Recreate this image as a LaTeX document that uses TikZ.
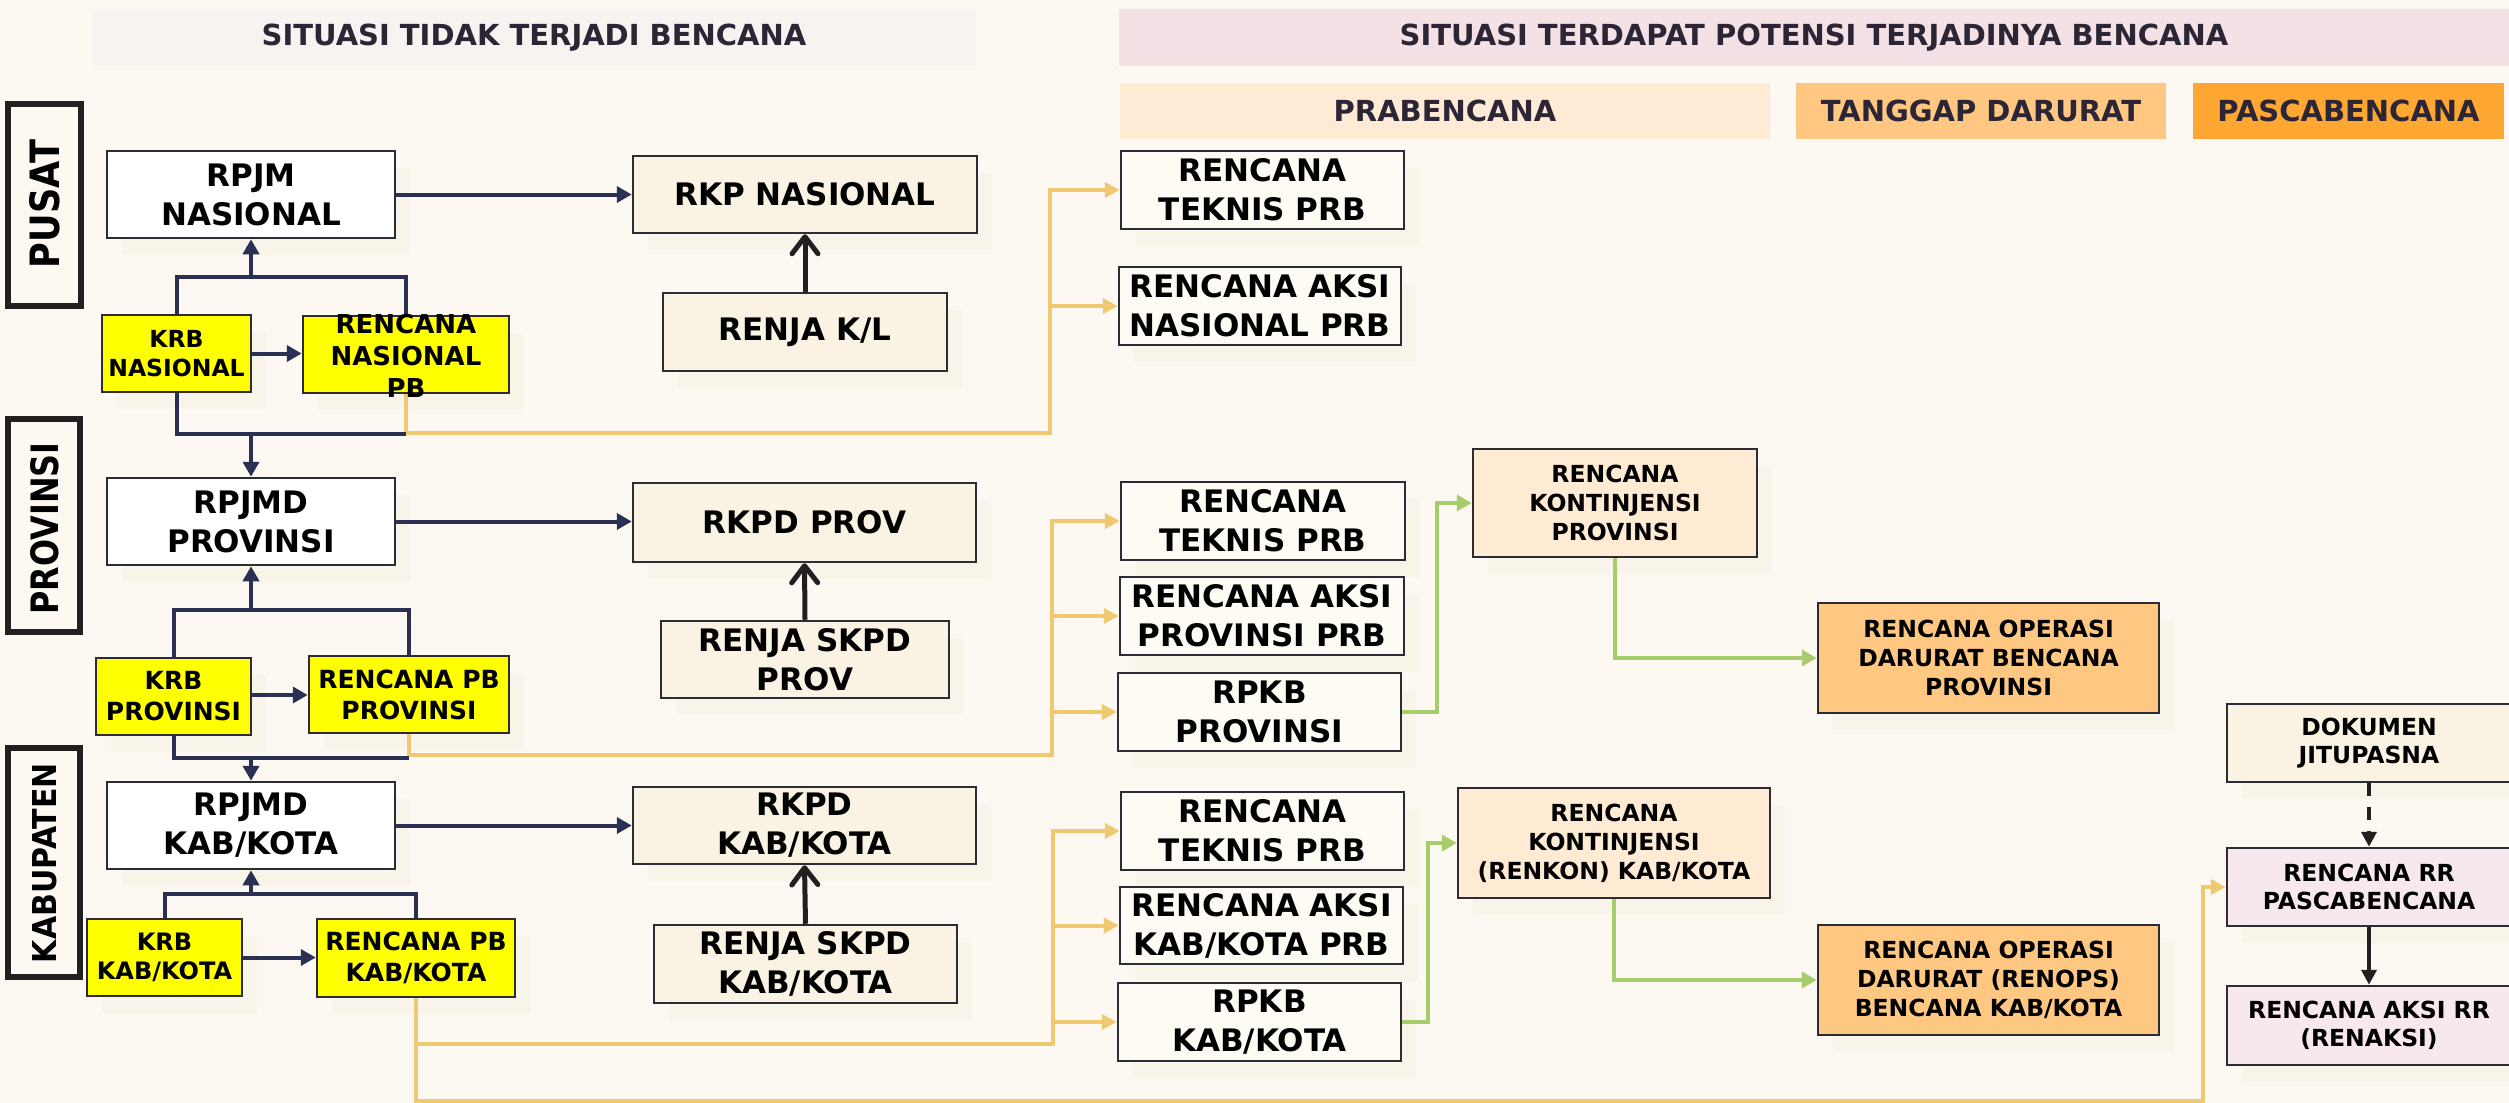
\documentclass[tikz,border=0pt]{standalone}
\usepackage{fontspec}
\usepackage{graphicx}
\setmainfont{DejaVu Sans}
\usetikzlibrary{arrows.meta,shadows}

\definecolor{bg}{HTML}{FDF9F2}
\definecolor{shade}{HTML}{F9F4EA}
\definecolor{boxline}{HTML}{2D2B33}
\definecolor{labline}{HTML}{231F20}
\definecolor{navy}{HTML}{293052}
\definecolor{blk}{HTML}{231F20}
\definecolor{yel}{HTML}{EFC872}
\definecolor{grn}{HTML}{A7CC6B}
\definecolor{headtxt}{HTML}{2B2535}
\definecolor{headA}{HTML}{F8F3F1}
\definecolor{headB}{HTML}{F3E1E5}
\definecolor{pra}{HTML}{FFEBD5}
\definecolor{tang}{HTML}{FFC782}
\definecolor{pasca}{HTML}{FFA733}
\definecolor{cream}{HTML}{FAF3E3}
\definecolor{paper}{HTML}{FEFBF4}
\definecolor{kon}{HTML}{FFEBD3}
\definecolor{ops}{HTML}{FFC882}
\definecolor{jit}{HTML}{FBF3E2}
\definecolor{rrfill}{HTML}{F6E8EC}
\definecolor{krb}{HTML}{FFFF00}

\tikzset{
  box/.style={rectangle, draw=boxline, line width=2.5pt, inner sep=0pt,
    align=center, text=black,
    general shadow={fill=shade, shadow xshift=15pt, shadow yshift=-17pt}},
  fA/.style={font=\bfseries\fontsize{31}{39}\selectfont},
  fB/.style={font=\bfseries\fontsize{25}{31}\selectfont},
  fC/.style={font=\bfseries\fontsize{23.5}{29}\selectfont},
  fD/.style={font=\bfseries\fontsize{23.5}{27.5}\selectfont},
  band/.style={rectangle, inner sep=0pt, text=headtxt,
    font=\bfseries\fontsize{29}{35}\selectfont},
  lvl/.style={rectangle, draw=labline, line width=6pt, fill=bg, inner sep=0pt},
  navyline/.style={draw=navy, line width=4pt},
  navyarr/.style={navyline, -{Triangle[width=16pt,length=15pt]}},
  blkarr/.style={draw=blk, line width=5pt, -{Straight Barb[round,width=26pt,length=17pt]}},
  darkarr/.style={draw=blk, line width=4pt, -{Triangle[width=15pt,length=15pt]}},
  yelarr/.style={draw=yel, line width=4pt, -{Triangle[width=15pt,length=15pt]}},
  grnarr/.style={draw=grn, line width=4pt, -{Triangle[width=16pt,length=15pt]}},
}

\begin{document}
\begin{tikzpicture}[x=1pt,y=-1pt]
\fill[bg] (0,0) rectangle (2509,1103);
\useasboundingbox (0,0) rectangle (2509,1103);

% column and phase headers
\node[band, fill=headA, minimum width=884pt, minimum height=56pt] (hA) at (534,38) {SITUASI TIDAK TERJADI BENCANA};
\node[band, fill=headB, minimum width=1390pt, minimum height=57pt] (hB) at (1814,37.5) {SITUASI TERDAPAT POTENSI TERJADINYA BENCANA};
\node[band, fill=pra, minimum width=650pt, minimum height=56pt] (hpra) at (1445,111) {PRABENCANA};
\node[band, fill=tang, minimum width=370pt, minimum height=56pt] (htang) at (1981,111) {TANGGAP DARURAT};
\node[band, fill=pasca, minimum width=311pt, minimum height=56pt] (hpasca) at (2348.5,111) {PASCABENCANA};

% level labels
\node[lvl, minimum width=73pt, minimum height=202pt] (pusat) at (44.5,205) {};
\node[rotate=90, inner sep=0pt] (pusattxt) at (45,204) {\resizebox{128pt}{30pt}{\bfseries\fontsize{40}{40}\selectfont PUSAT}};
\node[lvl, minimum width=72pt, minimum height=213pt] (prov) at (44,525.5) {};
\node[rotate=90, inner sep=0pt] (provtxt) at (45,528.5) {\resizebox{172pt}{28pt}{\bfseries\fontsize{40}{40}\selectfont PROVINSI}};
\node[lvl, minimum width=72pt, minimum height=229pt] (kab) at (44,862.5) {};
\node[rotate=90, inner sep=0pt] (kabtxt) at (45,863) {\resizebox{200pt}{24pt}{\bfseries\fontsize{40}{40}\selectfont KABUPATEN}};

% national level
\node[box, fA, fill=white, minimum width=288pt, minimum height=87pt] (rpjm) at (251,194.5) {RPJM\\NASIONAL};
\node[box, fA, fill=cream, minimum width=344pt, minimum height=77pt] (rkp) at (805,194.5) {RKP NASIONAL};
\node[box, fA, fill=cream, minimum width=284pt, minimum height=78pt] (renjakl) at (805,332) {RENJA K/L};
\node[box, fC, fill=krb, minimum width=149pt, minimum height=77pt] (krbnas) at (176.5,353.5) {KRB\\NASIONAL};
\node[box, fill=krb, minimum width=206pt, minimum height=77pt] (rnpb) at (406,354.5) {};

% provincial level
\node[box, fA, fill=white, minimum width=288pt, minimum height=87pt] (rpjmdprov) at (251,521.5) {RPJMD\\PROVINSI};
\node[box, fA, fill=cream, minimum width=343pt, minimum height=79pt] (rkpdprov) at (804.5,522.5) {RKPD PROV};
\node[box, fA, fill=cream, minimum width=288pt, minimum height=77pt] (renjaprov) at (805,659.5) {RENJA SKPD\\PROV};
\node[box, fB, fill=krb, minimum width=155pt, minimum height=77pt] (krbprov) at (173.5,696.5) {KRB\\PROVINSI};
\node[box, fB, fill=krb, minimum width=200pt, minimum height=77pt] (rpbprov) at (409,694.5) {RENCANA PB\\PROVINSI};

% regency / city level
\node[box, fA, fill=white, minimum width=288pt, minimum height=87pt] (rpjmdkab) at (251,825.5) {RPJMD\\KAB/KOTA};
\node[box, fA, fill=cream, minimum width=343pt, minimum height=77pt] (rkpdkab) at (804.5,825.5) {RKPD\\KAB/KOTA};
\node[box, fA, fill=cream, minimum width=303pt, minimum height=78pt] (renjakab) at (805.5,964) {RENJA SKPD\\KAB/KOTA};
\node[box, font=\bfseries\fontsize{24}{29}\selectfont, fill=krb, minimum width=155pt, minimum height=77pt] (krbkab) at (164.5,957.5) {KRB\\KAB/KOTA};
\node[box, fB, fill=krb, minimum width=198pt, minimum height=78pt] (rpbkab) at (416,958) {RENCANA PB\\KAB/KOTA};

% pre-disaster plans
\node[box, fA, fill=paper, minimum width=283pt, minimum height=78pt] (tek1) at (1262.5,190) {RENCANA\\TEKNIS PRB};
\node[box, fA, fill=paper, minimum width=282pt, minimum height=78pt] (aksi1) at (1260,306) {RENCANA AKSI\\NASIONAL PRB};
\node[box, fA, fill=paper, minimum width=284pt, minimum height=78pt] (tek2) at (1263,521) {RENCANA\\TEKNIS PRB};
\node[box, fA, fill=paper, minimum width=284pt, minimum height=78pt] (aksi2) at (1262,616) {RENCANA AKSI\\PROVINSI PRB};
\node[box, fA, fill=paper, minimum width=283pt, minimum height=78pt] (rpkb2) at (1259.5,712) {RPKB\\PROVINSI};
\node[box, fA, fill=paper, minimum width=283pt, minimum height=78pt] (tek3) at (1262.5,831) {RENCANA\\TEKNIS PRB};
\node[box, fA, fill=paper, minimum width=283pt, minimum height=77pt] (aksi3) at (1261.5,925.5) {RENCANA AKSI\\KAB/KOTA PRB};
\node[box, fA, fill=paper, minimum width=283pt, minimum height=78pt] (rpkb3) at (1259.5,1022) {RPKB\\KAB/KOTA};

% contingency and emergency operation plans
\node[box, fC, fill=kon, minimum width=284pt, minimum height=108pt] (kon2) at (1615,503) {RENCANA\\KONTINJENSI\\PROVINSI};
\node[box, fC, fill=kon, minimum width=312pt, minimum height=110pt] (kon3) at (1614,843) {RENCANA\\KONTINJENSI\\(RENKON) KAB/KOTA};
\node[box, fC, fill=ops, minimum width=341pt, minimum height=110pt] (ops2) at (1988.5,658) {RENCANA OPERASI\\DARURAT BENCANA\\PROVINSI};
\node[box, fC, fill=ops, minimum width=341pt, minimum height=110pt] (ops3) at (1988.5,980) {RENCANA OPERASI\\DARURAT (RENOPS)\\BENCANA KAB/KOTA};

% post-disaster plans
\node[box, fD, fill=jit, minimum width=284pt, minimum height=78pt] (jit) at (2369,743) {DOKUMEN\\JITUPASNA};
\node[box, fD, fill=rrfill, minimum width=284pt, minimum height=78pt] (rr) at (2369,887) {RENCANA RR\\PASCABENCANA};
\node[box, fD, fill=rrfill, minimum width=284pt, minimum height=79pt] (renaksi) at (2369,1025.5) {RENCANA AKSI RR\\(RENAKSI)};

% horizontal planning flows
\draw[navyarr] (rpjm.east) -- (rkp.west);
\draw[navyarr] (rpjmdprov.east) -- (rpjmdprov.east -| rkpdprov.west);
\draw[navyarr] (rpjmdkab.east) -- (rkpdkab.west);
\draw[blkarr] (renjakl.north) -- (rkp.south);
\draw[blkarr] (renjaprov.north) -- (rkpdprov.south);
\draw[blkarr] (renjakab.north) -- (rkpdkab.south);

% national brackets
\coordinate (bt1) at (251,277);
\coordinate (bb1) at (251,434);
\draw[navyline] (krbnas.north) |- (bt1) -| (rnpb.north);
\draw[navyarr] (bt1) -- (rpjm.south);
\draw[navyarr] (krbnas.east) -- (krbnas.east -| rnpb.west);
\draw[yelarr] (rnpb.south) |- (1050,433) |- (tek1.west);
\draw[yelarr] (1050,306) -- (aksi1.west);
\draw[navyline] (krbnas.south) |- (rnpb.south |- bb1);
\draw[navyarr] (bb1) -- (rpjmdprov.north);

% provincial brackets
\coordinate (bt2) at (251,610);
\coordinate (bb2) at (251,758);
\coordinate (kp) at (251,695);
\draw[navyline] (krbprov.north) |- (bt2) -| (rpbprov.north);
\draw[navyarr] (bt2) -- (rpjmdprov.south);
\draw[navyarr] (kp -| krbprov.east) -- (kp -| rpbprov.west);
\draw[yelarr] (rpbprov.south) |- (1052,755) |- (tek2.west);
\draw[yelarr] (1052,616) -- (aksi2.west);
\draw[yelarr] (1052,712) -- (rpkb2.west);
\draw[navyline] (krbprov.south) |- (rpbprov.south |- bb2);
\draw[navyarr] (bb2) -- (rpjmdkab.north);

% regency / city brackets
\coordinate (bt3) at (251,894);
\draw[navyline] (krbkab.north) |- (bt3) -| (rpbkab.north);
\draw[navyarr] (bt3) -- (rpjmdkab.south);
\draw[navyarr] (krbkab.east) -- (krbkab.east -| rpbkab.west);
\draw[yelarr] (rpbkab.south) |- (1053,1044) |- (tek3.west);
\draw[yelarr] (1053,925.5) -- (aksi3.west);
\draw[yelarr] (1053,1022) -- (rpkb3.west);
\draw[yelarr] (rpbkab.south) |- (2203,1101) |- (rr.west);

% contingency flows
\draw[grnarr] (rpkb2.east) -| (1437,503) -- (kon2.west);
\draw[grnarr] (kon2.south) |- (ops2.west);
\draw[grnarr] (rpkb3.east) -| (1428,843) -- (kon3.west);
\draw[grnarr] (kon3.south) |- (ops3.west);

% post-disaster flows
\draw[darkarr, dash pattern=on 13pt off 11pt] (jit.south) -- (rr.north);
\draw[darkarr] (rr.south) -- (renaksi.north);

% label drawn over its box
\node[font=\bfseries\fontsize{26}{32}\selectfont, align=center, inner sep=0pt] (rnpbtxt) at (406,355.5) {RENCANA\\NASIONAL\\PB};
\end{tikzpicture}
\end{document}
